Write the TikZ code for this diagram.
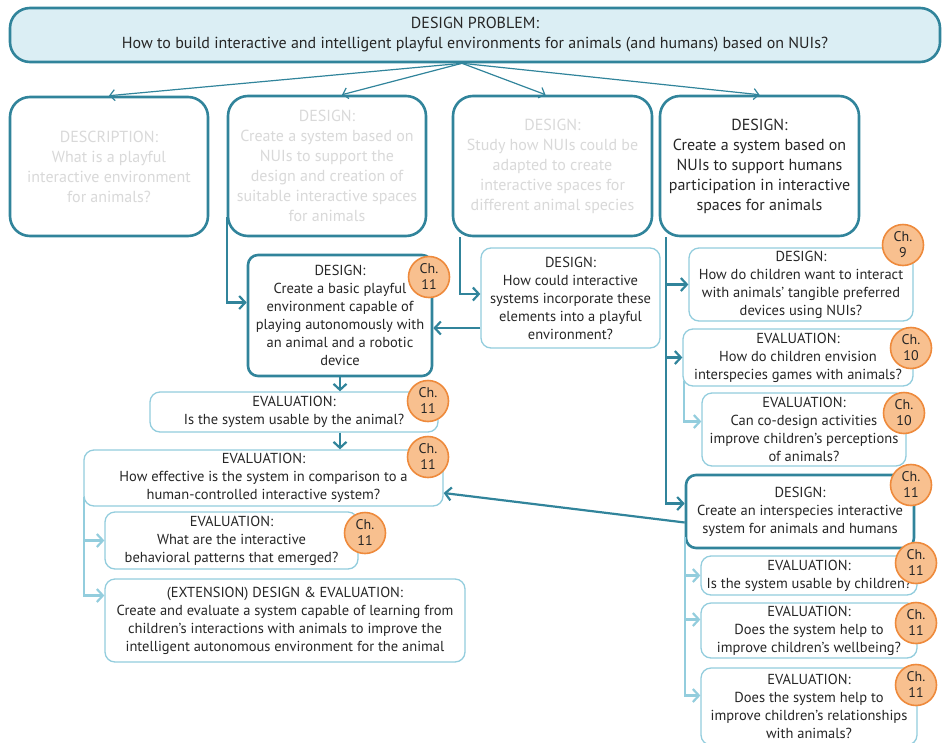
\documentclass[tikz,border=0pt]{standalone}
\usepackage{fontspec}
\setmainfont{PT Sans}
\usetikzlibrary{arrows.meta,calc}
\definecolor{darkteal}{HTML}{31849B}
\definecolor{lightteal}{HTML}{93CDDD}
\definecolor{problemfill}{HTML}{DBEEF4}
\definecolor{bodytext}{HTML}{262626}
\definecolor{fadedtext}{HTML}{D9D9D9}
\definecolor{badgefill}{HTML}{F8C08F}
\definecolor{badgeedge}{HTML}{EE8A3C}
\tikzset{
  bigbox/.style={draw=darkteal, line width=2.6pt, rounded corners=20pt, fill=white,
    align=center, inner sep=0pt, text=bodytext, font=\fontsize{16}{20}\selectfont},
  faded/.style={text=fadedtext},
  strongbox/.style={draw=darkteal, line width=2.6pt, rounded corners=10pt, fill=white,
    align=center, inner sep=0pt, text=bodytext, font=\fontsize{14.5}{18}\selectfont},
  smallbox/.style={draw=lightteal, line width=1.3pt, rounded corners=10pt, fill=white,
    align=center, inner sep=0pt, text=bodytext, font=\fontsize{14.5}{18}\selectfont},
  badge/.style={circle, draw=badgeedge, fill=badgefill, line width=1.6pt,
    minimum size=41pt, inner sep=0pt, align=center, text=bodytext,
    font=\fontsize{14}{16}\selectfont},
  thinarrow/.style={draw=darkteal, line width=1.2pt,
    -{Straight Barb[length=5pt,width=11pt,line width=1.2pt]}},
  darkarrow/.style={draw=darkteal, line width=2.2pt,
    -{Straight Barb[length=6pt,width=13pt,line width=2.2pt]}},
  lightarrow/.style={draw=lightteal, line width=2.2pt,
    -{Straight Barb[length=6pt,width=13pt,line width=2.2pt]}},
}
\begin{document}
\begin{tikzpicture}[x=1pt,y=-1pt]
\useasboundingbox (0,0) rectangle (942,742);

% problem statement
\node[bigbox, fill=problemfill, minimum width=930pt, minimum height=54pt] (top) at (475,35)
  {DESIGN PROBLEM:\\How to build interactive and intelligent playful environments for animals (and humans) based on NUIs?};

% second row
\node[bigbox, faded, minimum width=198pt, minimum height=139pt] (A) at (109,166.5)
  {DESCRIPTION:\\What is a playful\\interactive environment\\for animals?};
\node[bigbox, faded, minimum width=198pt, minimum height=140pt] (B) at (327,166)
  {DESIGN:\\Create a system based on\\NUIs to support the\\design and creation of\\suitable interactive spaces\\for animals};
\node[bigbox, faded, minimum width=199pt, minimum height=140pt] (C) at (552.5,166)
  {DESIGN:\\Study how NUIs could be\\adapted to create\\interactive spaces for\\different animal species};
\node[bigbox, minimum width=199pt, minimum height=140pt] (D) at (759.5,166)
  {DESIGN:\\Create a system based on\\NUIs to support humans\\participation in interactive\\spaces for animals};

% left branch
\node[strongbox, minimum width=184pt, minimum height=121pt] (E) at (340,315.5)
  {DESIGN:\\Create a basic playful\\environment capable of\\playing autonomously with\\an animal and a robotic\\device};
\node[smallbox, minimum width=179pt, minimum height=100pt] (F) at (570.5,298)
  {DESIGN:\\How could interactive\\systems incorporate these\\elements into a playful\\environment?};
\node[smallbox, minimum width=288pt, minimum height=40pt] (G) at (294,412)
  {EVALUATION:\\Is the system usable by the animal?};
\node[smallbox, minimum width=359pt, minimum height=56pt] (H) at (263.5,478)
  {EVALUATION:\\How effective is the system in comparison to a\\human-controlled interactive system?};
\node[smallbox, minimum width=253pt, minimum height=57pt] (I) at (231.5,540.5)
  {EVALUATION:\\What are the interactive\\behavioral patterns that emerged?};
\node[smallbox, minimum width=360pt, minimum height=83pt] (J) at (285,620.5)
  {(EXTENSION) DESIGN \& EVALUATION:\\Create and evaluate a system capable of learning from\\children's interactions with animals to improve the\\intelligent autonomous environment for the animal};

% right branch
\node[smallbox, minimum width=224pt, minimum height=73pt] (K) at (801,284.5)
  {DESIGN:\\How do children want to interact\\with animals' tangible preferred\\devices using NUIs?};
\node[smallbox, minimum width=230pt, minimum height=57pt] (L) at (798,357.5)
  {EVALUATION:\\How do children envision\\interspecies games with animals?};
\node[smallbox, minimum width=204pt, minimum height=73pt] (N) at (804,429.5)
  {EVALUATION:\\Can co-design activities\\improve children's perceptions\\of animals?};
\node[strongbox, minimum width=228pt, minimum height=73pt] (M) at (800,511.5)
  {DESIGN:\\Create an interspecies interactive\\system for animals and humans};
\node[smallbox, minimum width=216pt, minimum height=39pt] (O) at (809,575.5)
  {EVALUATION:\\Is the system usable by children?};
\node[smallbox, minimum width=216pt, minimum height=55pt] (P) at (809,630.5)
  {EVALUATION:\\Does the system help to\\improve children's wellbeing?};
\node[smallbox, minimum width=216pt, minimum height=77pt] (Q) at (809,706.5)
  {EVALUATION:\\Does the system help to\\improve children's relationships\\with animals?};

% connectors from the problem statement
\coordinate (hub) at ($(top.south)+(-13,0)$);
\draw[thinarrow] (hub) -- (A.north);
\draw[thinarrow] (hub) -- ($(B.north)+(15,0)$);
\draw[thinarrow] (hub) -- ($(C.north)+(-7,0)$);
\draw[thinarrow] (hub) -- (D.north);

% left branch connectors
\draw[darkarrow] ($(B.south west)+(0,-20)$) |- ($(E.west)+(0,-13)$);
\draw[darkarrow] ($(C.south west)+(8,0)$) |- ($(F.west)+(0,-4)$);
\coordinate (fe) at ($(F.west)+(0,30)$);
\draw[darkarrow] (fe) -- (fe -| E.east);
\draw[darkarrow] (E.south) -- (E.south |- G.north);
\draw[darkarrow] (G.south -| E.south) -- (H.north -| E.south);
\coordinate (hl) at ($(H.south west)+(1,-10)$);
\draw[lightarrow] (hl) |- (I.west);
\draw[lightarrow] (hl) |- ($(J.west)+(0,-25)$);

% right branch connectors
\coordinate (dl) at ($(D.south west)+(7,0)$);
\draw[darkarrow] (dl) |- (K.west);
\draw[darkarrow] (dl) |- (L.west);
\draw[darkarrow] (dl) |- ($(M.west)+(0,-8)$);
\draw[lightarrow] ($(L.south west)+(2,-6)$) |- ($(N.west)+(0,-8)$);
\draw[darkarrow] ($(M.west)+(0,11)$) -- ($(H.east)+(0,15)$);
\coordinate (ml) at ($(M.south west)+(0,-12)$);
\draw[lightarrow] (ml) |- (O.west);
\draw[lightarrow] (ml) |- ($(P.west)+(0,-11)$);
\draw[lightarrow] (ml) |- ($(Q.west)+(0,-11)$);

% chapter badges
\node[badge] (bE) at (429,277) {Ch.\\11};
\node[badge] (bG) at (428,401) {Ch.\\11};
\node[badge] (bH) at (428,457) {Ch.\\11};
\node[badge] (bI) at (365,533) {Ch.\\11};
\node[badge] (bK) at (903,245) {Ch.\\9};
\node[badge] (bL) at (911,348) {Ch.\\10};
\node[badge] (bN) at (904,413) {Ch.\\10};
\node[badge] (bM) at (911,485) {Ch.\\11};
\node[badge] (bO) at (916,563) {Ch.\\11};
\node[badge] (bP) at (916,623) {Ch.\\11};
\node[badge] (bQ) at (916,685) {Ch.\\11};
\end{tikzpicture}
\end{document}
